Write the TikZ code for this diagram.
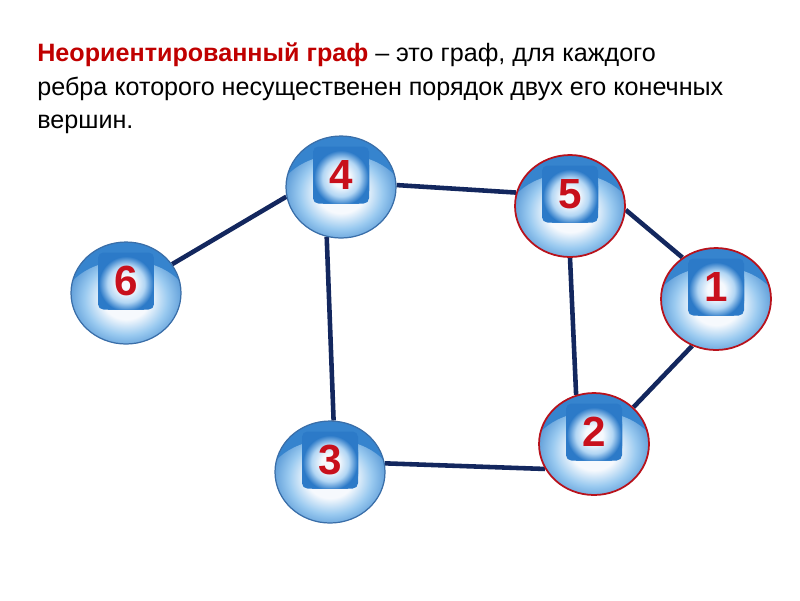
\documentclass[tikz,border=0pt]{standalone}
\usepackage{fontspec}
\setmainfont{Liberation Sans}
\usetikzlibrary{shapes.geometric, backgrounds}
\definecolor{titlered}{HTML}{C00000}
\definecolor{digitred}{HTML}{C8101C}
\definecolor{rimred}{HTML}{B8121C}
\definecolor{rimblue}{HTML}{3A6EA8}
\definecolor{linkblue}{HTML}{13275E}
\definecolor{ballblue}{HTML}{3684CE}
\definecolor{ballmid}{HTML}{9ACAF0}
\definecolor{ballwhite}{HTML}{F6F9FD}
\definecolor{tileblue}{HTML}{2C7AC8}
\definecolor{tilelight}{HTML}{B2D6F4}
\pgfdeclareradialshading{ballglow}{\pgfpoint{0bp}{0bp}}{%
  color(0bp)=(ballwhite); color(9bp)=(ballwhite); color(16bp)=(ballmid);
  color(22bp)=(ballblue!80); color(25bp)=(ballblue); color(50bp)=(ballblue)}
\pgfdeclareradialshading{tileglow}{\pgfpoint{0bp}{0bp}}{%
  color(0bp)=(ballwhite); color(7bp)=(ballwhite); color(15bp)=(tilelight);
  color(22bp)=(tileblue); color(50bp)=(tileblue)}
\newfontfamily\digitfont{Liberation Sans Bold}
\tikzset{
  ball/.style={ellipse, minimum width=2.2cm, minimum height=2.04cm, inner sep=0pt,
    fill=ballblue, draw=rimblue, line width=0.7pt,
    path picture={\fill[shading=ballglow] ([yshift=-0.3cm]path picture bounding box.center)
      ellipse [x radius=1.3cm, y radius=0.95cm];}},
  redball/.style={ball, draw=rimred, line width=1pt},
  tile/.style={rectangle, rounded corners=3pt, minimum width=1.12cm, minimum height=1.14cm,
    inner sep=0pt, fill=tileblue, text=digitred, font=\digitfont\fontsize{24}{24}\selectfont,
    path picture={\fill[shading=tileglow] ([yshift=-0.06cm]path picture bounding box.center)
      circle [radius=0.62cm];}},
  link/.style={draw=linkblue, line width=2.6pt},
  caption/.style={anchor=base west, inner sep=0pt, font=\fontsize{14.3}{17}\selectfont}
}
\begin{document}
\begin{tikzpicture}[x=0.02cm, y=-0.02cm]
  \useasboundingbox (0,0) rectangle (800,600);
  % definition text
  \node[caption] (cap1) at (37,61) {\textbf{\color{titlered}Неориентированный граф} – это граф, для каждого};
  \node[caption] (cap2) at (37,95) {ребра которого несущественен порядок двух его конечных};
  \node[caption] (cap3) at (37,128) {вершин.};
  % vertices
  \foreach \n/\x/\y/\s in {4/341/187/ball, 6/126/293/ball, 3/330/472/ball,
                          5/570/206/redball, 1/716/299/redball, 2/594/444/redball}{
    \node[\s] (v\n) at (\x,\y) {};
    \node[tile] (t\n) at (\x,\y-12) {\n};
  }
  % edges
  \begin{scope}[on background layer]
    \draw[link] (v6.32) -- (v4.190);
    \draw[link] (v4.2) -- (v5.166);
    \draw[link] (v4.254) -- (v3.86);
    \draw[link] (v5.356) -- (v1.129);
    \draw[link] (v5.270) -- (v2.110);
    \draw[link] (v1.243) -- (v2.43);
    \draw[link] (v3.9) -- (v2.207);
  \end{scope}
\end{tikzpicture}
\end{document}
